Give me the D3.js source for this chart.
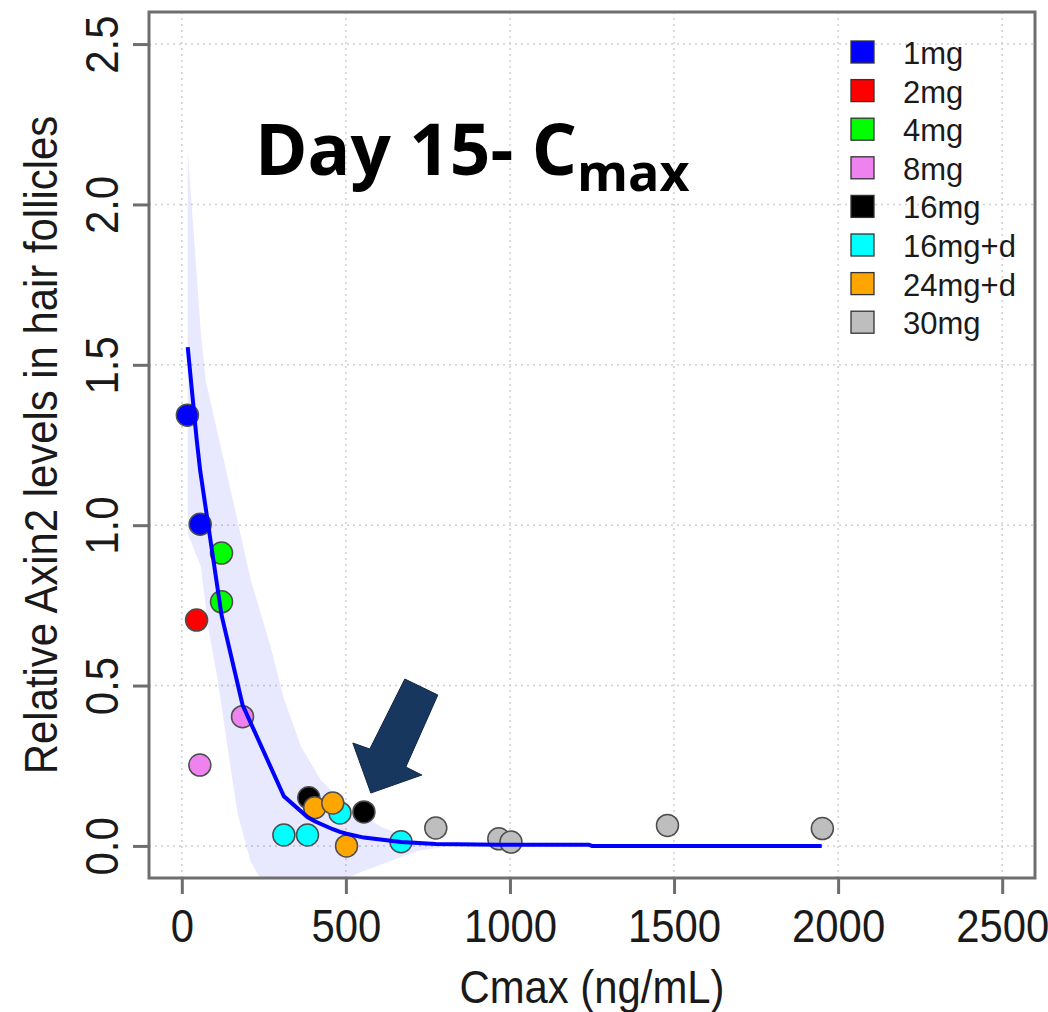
<!DOCTYPE html>
<html>
<head>
<meta charset="utf-8">
<script src="https://cdn.jsdelivr.net/npm/d3@7"></script>
<style>
  body { margin: 0; background: #fff; }
  text { font-family: "Liberation Sans", Arial, sans-serif; fill: #1a1a1a; }
</style>
</head>
<body>
<script>
// dose groups (legend order) and their colours
var groups = ["1mg", "2mg", "4mg", "8mg", "16mg", "16mg+d", "24mg+d", "30mg"];
var groupColors = ["#0000ff", "#ff0000", "#00ff00", "#ee82ee", "#000000", "#00ffff", "#ffa500", "#bebebe"];

// observed points
var ptGroup = ["1mg", "1mg", "2mg", "4mg", "4mg", "8mg", "8mg",
               "16mg", "16mg", "16mg+d", "16mg+d", "16mg+d", "16mg+d",
               "24mg+d", "24mg+d", "24mg+d", "30mg", "30mg", "30mg", "30mg", "30mg"];
var ptCmax = [17, 56, 45, 121, 121, 185, 55,
              387, 555, 311, 383, 482, 668,
              405, 460, 502, 774, 966, 1003, 1480, 1952];
var ptAxin2 = [1.343, 1.003, 0.704, 0.913, 0.761, 0.403, 0.252,
               0.150, 0.106, 0.034, 0.034, 0.103, 0.013,
               0.119, 0.134, 0.0, 0.056, 0.022, 0.012, 0.064, 0.054];

// fitted curve
var fitCmax = [18, 45, 56, 121, 185, 311, 383, 405, 460, 482, 502, 555, 668, 774, 966, 1003, 1240, 1250, 1950];
var fitAxin2 = [1.555, 1.27, 1.17, 0.72, 0.44, 0.155, 0.09, 0.077, 0.052, 0.044, 0.038, 0.026, 0.012, 0.006, 0.004, 0.004, 0.004, 0.0, 0.0];

// prediction band
var bandUpX = [18, 58, 73, 142, 210, 271, 311, 363, 424, 494, 607, 707, 820];
var bandUpY = [2.17, 1.6, 1.45, 1.14, 0.83, 0.62, 0.46, 0.31, 0.205, 0.134, 0.06, 0.019, 0.0];
var bandLoX = [18, 58, 82, 109, 139, 170, 210, 250, 460, 550, 720, 820];
var bandLoY = [0.975, 0.87, 0.67, 0.52, 0.31, 0.10, -0.05, -0.12, -0.12, -0.08, -0.015, 0.0];

var xTicks = [0, 500, 1000, 1500, 2000, 2500];
var yTicks = [0, 0.5, 1, 1.5, 2, 2.5];

// arrow tip location (data units)
var arrowTip = [576, 0.165];

var w = 1048, h = 1012;
var box = {left: 149, right: 1035, top: 12, bottom: 878};

var svg = d3.select("body")
  .append("svg")
  .attr("width", w)
  .attr("height", h);

var x = d3.scaleLinear().domain([-100, 2600]).range([box.left, box.right]);
var y = d3.scaleLinear().domain([-0.1, 2.6]).range([box.bottom, box.top]);

svg.append("defs").append("clipPath").attr("id", "plotclip")
  .append("rect")
  .attr("x", box.left).attr("y", box.top)
  .attr("width", box.right - box.left).attr("height", box.bottom - box.top);

// grid
svg.append("g").selectAll("line")
  .data(xTicks).enter().append("line")
  .attr("x1", d => x(d)).attr("x2", d => x(d))
  .attr("y1", box.top).attr("y2", box.bottom)
  .attr("stroke", "#d0d0d0").attr("stroke-width", 1.5).attr("stroke-dasharray", "2,4");
svg.append("g").selectAll("line")
  .data(yTicks).enter().append("line")
  .attr("y1", d => y(d)).attr("y2", d => y(d))
  .attr("x1", box.left).attr("x2", box.right)
  .attr("stroke", "#d0d0d0").attr("stroke-width", 1.5).attr("stroke-dasharray", "2,4");

// band
var bandPts = bandUpX.map((d, i) => [d, bandUpY[i]])
  .concat(bandLoX.map((d, i) => [d, bandLoY[i]]).reverse());
svg.append("path")
  .attr("clip-path", "url(#plotclip)")
  .attr("d", d3.line().x(d => x(d[0])).y(d => y(d[1]))(bandPts) + "Z")
  .attr("fill", "rgba(0,0,255,0.09)")
  .attr("stroke", "none");

// points
var color = d3.scaleOrdinal().domain(groups).range(groupColors);
var pts = ptCmax.map((d, i) => ({cmax: d, val: ptAxin2[i], g: ptGroup[i]}));
svg.append("g").selectAll("circle")
  .data(pts).enter().append("circle")
  .attr("cx", d => x(d.cmax))
  .attr("cy", d => y(d.val))
  .attr("r", 11)
  .attr("fill", d => color(d.g))
  .attr("stroke", "#4d4d4d")
  .attr("stroke-width", 1.5);

// fitted line
var fit = fitCmax.map((d, i) => [d, fitAxin2[i]]);
svg.append("path")
  .attr("d", d3.line().x(d => x(d[0])).y(d => y(d[1]))(fit))
  .attr("fill", "none")
  .attr("stroke", "#0000ff")
  .attr("stroke-width", 4);

// frame
svg.append("rect")
  .attr("x", box.left).attr("y", box.top)
  .attr("width", box.right - box.left).attr("height", box.bottom - box.top)
  .attr("fill", "none").attr("stroke", "#6e6e6e").attr("stroke-width", 3);

// axes
var xAxis = svg.append("g")
  .attr("transform", "translate(0," + box.bottom + ")")
  .call(d3.axisBottom(x).tickValues(xTicks).tickSize(16).tickFormat(d3.format("d")));
var yAxis = svg.append("g")
  .attr("transform", "translate(" + box.left + ",0)")
  .call(d3.axisLeft(y).tickValues(yTicks).tickSize(16).tickFormat(d3.format(".1f")));
[xAxis, yAxis].forEach(a => {
  a.select(".domain").remove();
  a.selectAll(".tick line").attr("stroke", "#6e6e6e").attr("stroke-width", 3);
  a.selectAll(".tick text").remove();
});

var tickFont = 46, squeeze = 0.91;
xAxis.selectAll(".tick").append("text")
  .attr("transform", "translate(0,64) scale(" + squeeze + ",1)")
  .attr("text-anchor", "middle")
  .style("font-size", tickFont + "px")
  .text(d => d3.format("d")(d));
yAxis.selectAll(".tick").append("text")
  .attr("transform", "translate(-31,0) rotate(-90) scale(" + squeeze + ",1)")
  .attr("text-anchor", "middle")
  .style("font-size", tickFont + "px")
  .text(d => d3.format(".1f")(d));

// axis titles
svg.append("text")
  .attr("transform", "translate(" + (box.left + box.right) / 2 + ",1003) scale(" + squeeze + ",1)")
  .attr("text-anchor", "middle")
  .style("font-size", tickFont + "px")
  .text("Cmax (ng/mL)");
svg.append("text")
  .attr("transform", "translate(57," + (box.top + box.bottom) / 2 + ") rotate(-90) scale(" + squeeze + ",1)")
  .attr("text-anchor", "middle")
  .style("font-size", tickFont + "px")
  .text("Relative Axin2 levels in hair follicles");

// title
var title = svg.append("text")
  .attr("x", 255).attr("y", 175)
  .style("font-family", "'Open Sans', 'Noto Sans', sans-serif")
  .style("font-weight", "bold")
  .style("font-size", "71px")
  .style("fill", "#000");
title.append("tspan").text("Day 15- C");
title.append("tspan")
  .attr("dy", 16)
  .style("font-size", "52px")
  .text("max");

// legend
var leg = svg.append("g").selectAll("g")
  .data(groups).enter().append("g")
  .attr("transform", (d, i) => "translate(851," + (41 + i * 38.6) + ")");
leg.append("rect")
  .attr("width", 23).attr("height", 22)
  .attr("fill", d => color(d))
  .attr("stroke", "#333").attr("stroke-width", 1.3);
leg.append("text")
  .attr("x", 52).attr("y", 23)
  .style("font-size", "31px")
  .text(d => d);

// arrow annotation (shape offsets in px from the tip)
var arrowShape = [[0, 0], [51, -18], [35, -26], [67, -98], [34, -114], [-1, -44], [-18, -50]];
var tx = x(arrowTip[0]), ty = y(arrowTip[1]);
svg.append("path")
  .attr("d", d3.line()(arrowShape.map(p => [tx + p[0], ty + p[1]])) + "Z")
  .attr("fill", "#17375e")
  .attr("stroke", "#0f2744")
  .attr("stroke-width", 1);
</script>
</body>
</html>
